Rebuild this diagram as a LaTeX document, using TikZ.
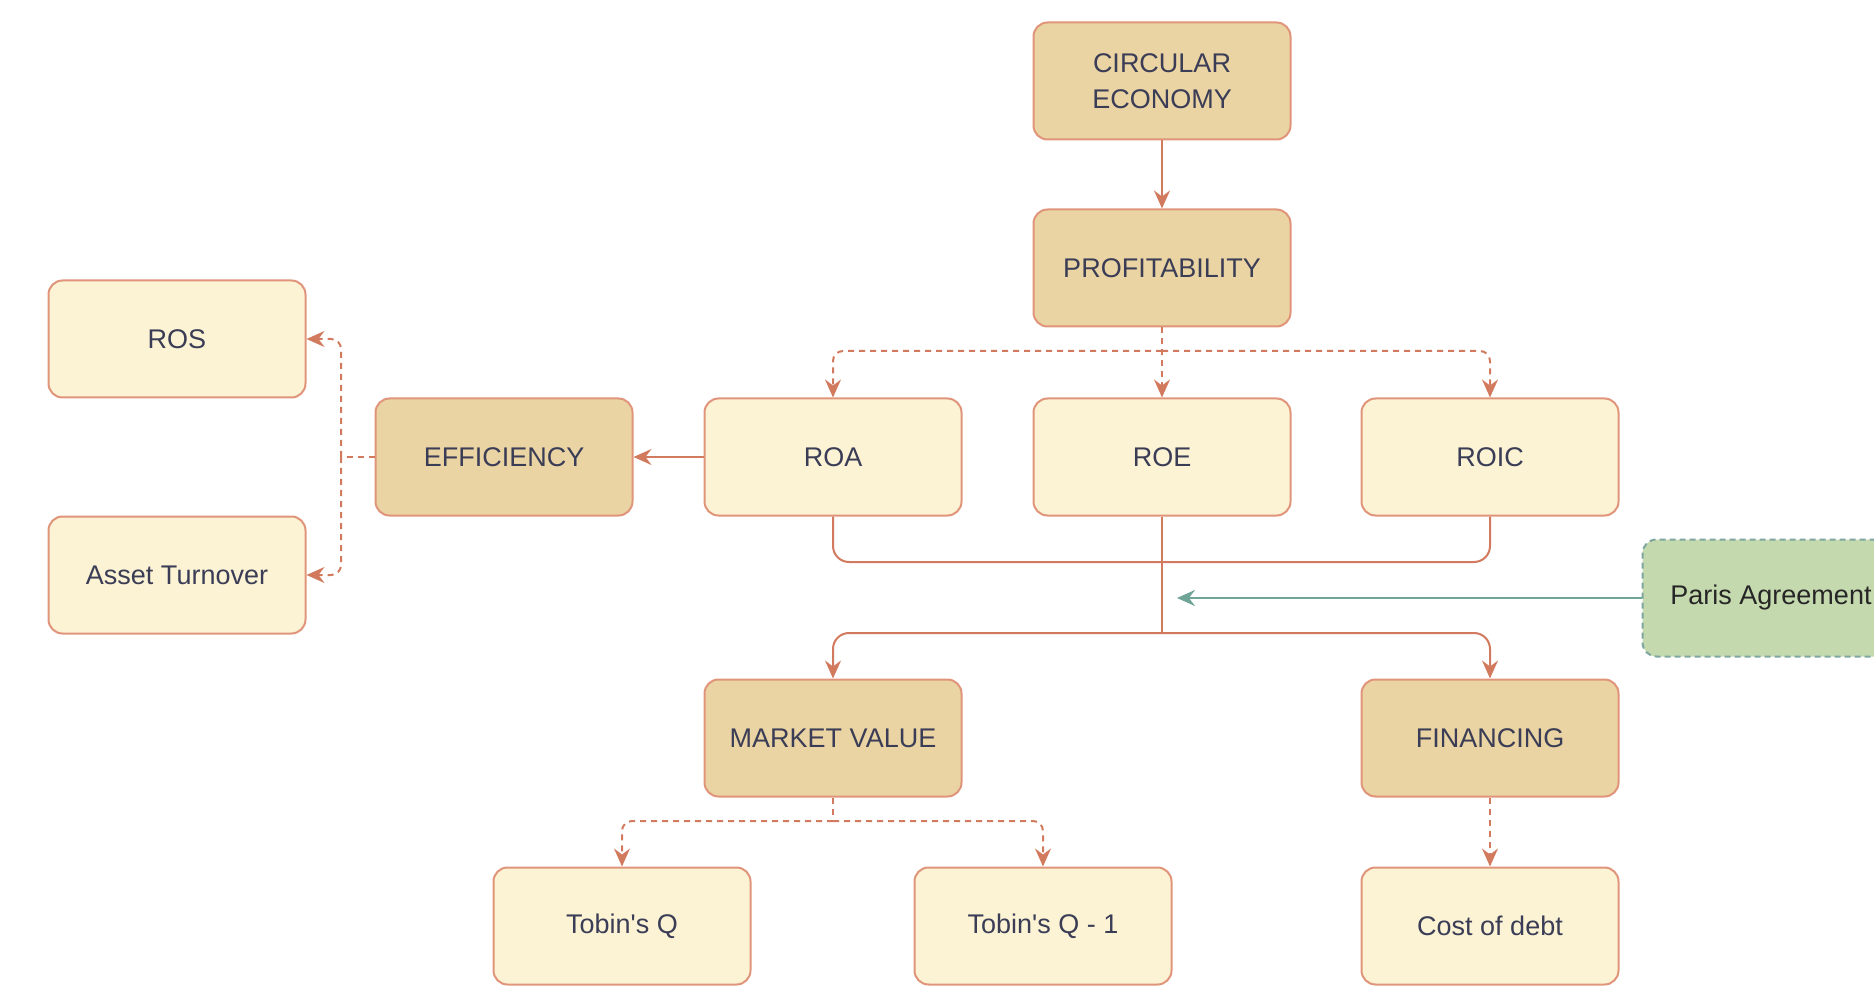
\documentclass[tikz,border=0pt]{standalone}
\usepackage{fontspec}
\setmainfont{Liberation Sans}[Ligatures = TeXOff]
\usetikzlibrary{arrows.meta}
\definecolor{boxline}{HTML}{E0957A}
\definecolor{darkfill}{HTML}{EBD4A4}
\definecolor{lightfill}{HTML}{FCF3D5}
\definecolor{linkcol}{HTML}{D27A5E}
\definecolor{textcol}{HTML}{3A3D55}
\definecolor{greenfill}{HTML}{C5D9AE}
\definecolor{greenline}{HTML}{7EA6A0}
\definecolor{greenarrow}{HTML}{6FA596}
\begin{document}
\begin{tikzpicture}[x = 0.5pt, y = -0.5pt,
        box/.style = {draw = boxline, line width = 1pt, rounded corners = 7pt,
            minimum width = 128.5pt, minimum height = 58.5pt, inner sep = 0pt,
            text = textcol, align = center, font = \fontsize{13.5}{18}\selectfont},
        mainbox/.style = {box, fill = darkfill},
        subbox/.style = {box, fill = lightfill},
        link/.style = {draw = linkcol, line width = 1pt},
        tip/.style = {link, -{Stealth[length = 9pt, width = 8pt, inset = 3pt]}},
        dlink/.style = {link, dash pattern = on 3pt off 2.5pt},
        dtip/.style = {tip, dash pattern = on 3pt off 2.5pt}]
        \useasboundingbox (0,0) rectangle (1874,989);
        % boxes
        \node[mainbox] (ce) at (1162,81) {CIRCULAR\\ECONOMY};
        \node[mainbox] (prof) at (1162,268) {PROFITABILITY};
        \node[subbox] (ros) at (177,339) {ROS};
        \node[subbox] (at) at (177,575) {Asset Turnover};
        \node[mainbox] (eff) at (504,457) {EFFICIENCY};
        \node[subbox] (roa) at (833,457) {ROA};
        \node[subbox] (roe) at (1162,457) {ROE};
        \node[subbox] (roic) at (1490,457) {ROIC};
        \node[box, fill = greenfill, draw = greenline, dash pattern = on 3pt off 2pt,
            text = black!85] (paris) at (1771,598) {Paris Agreement};
        \node[mainbox] (mv) at (833,738) {MARKET VALUE};
        \node[mainbox] (fin) at (1490,738) {FINANCING};
        \node[subbox] (tq) at (622,926) {Tobin's Q};
        \node[subbox] (tqm) at (1043,926) {Tobin's Q - 1};
        \node[subbox] (cod) at (1490,926) {Cost of debt};
        % branch points
        \coordinate (pbr) at (1162,351);
        \coordinate (ebr) at (341,457);
        \coordinate (mrg) at (1162,562);
        \coordinate (spl) at (1162,633);
        \coordinate (pa) at (1177,598);
        \coordinate (mbr) at (833,821);
        % connectors
        \draw[tip] (ce) -- (prof);
        \draw[dtip] (prof) -- (roe);
        \draw[dtip, rounded corners = 5pt] (pbr) -| (roa.north);
        \draw[dtip, rounded corners = 5pt] (pbr) -| (roic.north);
        \draw[tip] (roa) -- (eff);
        \draw[dlink] (eff.west) -- (ebr);
        \draw[dtip, rounded corners = 5pt] (ebr) |- (ros.east);
        \draw[dtip, rounded corners = 5pt] (ebr) |- (at.east);
        \draw[link, rounded corners = 8pt] (roa.south) |- (mrg) -| (roic.south);
        \draw[link] (roe.south) -- (spl);
        \draw[tip, rounded corners = 8pt] (spl) -| (mv.north);
        \draw[tip, rounded corners = 8pt] (spl) -| (fin.north);
        \draw[draw = greenarrow, line width = 1pt,
            -{Stealth[length = 9pt, width = 8pt, inset = 3pt]}] (paris.west) -- (pa);
        \draw[dlink] (mv.south) -- (mbr);
        \draw[dtip, rounded corners = 5pt] (mbr) -| (tq.north);
        \draw[dtip, rounded corners = 5pt] (mbr) -| (tqm.north);
        \draw[dtip] (fin) -- (cod);
\end{tikzpicture}
\end{document}
